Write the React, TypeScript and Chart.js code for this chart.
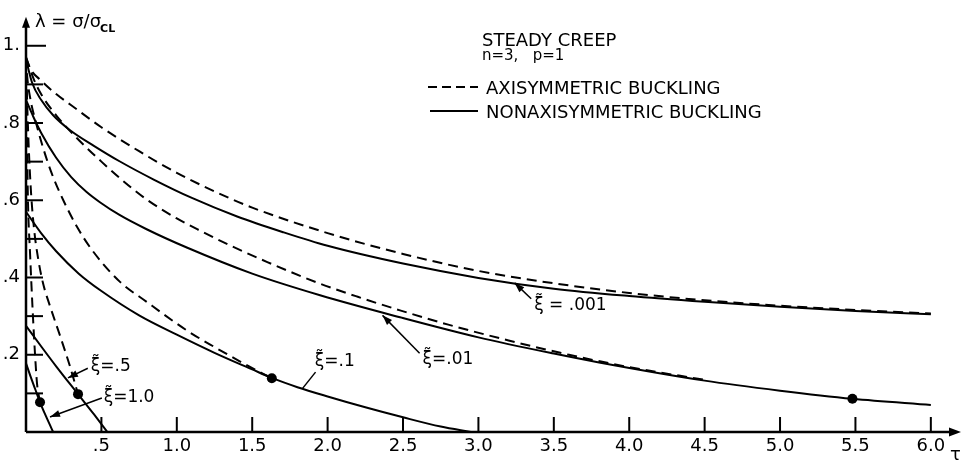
import React, { useEffect, useRef } from 'react';
import { Chart, registerables } from 'chart.js';

Chart.register(...registerables);

// ---------- tick labels ----------
const xTickValues = [0.5, 1.0, 1.5, 2.0, 2.5, 3.0, 3.5, 4.0, 4.5, 5.0, 5.5, 6.0];
const xTickLabels = ['.5', '1.0', '1.5', '2.0', '2.5', '3.0', '3.5', '4.0', '4.5', '5.0', '5.5', '6.0'];
const yTickValues = [0.2, 0.4, 0.6, 0.8, 1.0];
const yTickLabels = ['.2', '.4', '.6', '.8', '1.'];
const yMinorTickValues = [0.1, 0.2, 0.3, 0.4, 0.5, 0.6, 0.7, 0.8, 0.9, 1.0];

// ---------- series (tau, lambda) ----------
// xi = .001
const tauAxi001 = [0, 0.03, 0.1, 0.2, 0.3, 0.5, 0.75, 1.0, 1.25, 1.5, 2.0, 2.5, 3.0, 3.5, 4.0, 4.5, 5.0, 5.5, 6.0];
const lamAxi001 = [0.97, 0.94, 0.91, 0.875, 0.846, 0.789, 0.727, 0.671, 0.623, 0.581, 0.515, 0.461, 0.417, 0.385, 0.36, 0.341, 0.327, 0.316, 0.307];
const tauNon001 = [0, 0.04, 0.1, 0.18, 0.29, 0.45, 0.62, 0.85, 1.1, 1.4, 1.7, 2.0, 2.5, 3.0, 3.5, 4.0, 4.5, 5.0, 5.5, 6.0];
const lamNon001 = [0.965, 0.905, 0.86, 0.82, 0.782, 0.741, 0.701, 0.653, 0.606, 0.558, 0.518, 0.482, 0.436, 0.399, 0.371, 0.352, 0.337, 0.324, 0.313, 0.305];
// xi = .01
const tauAxi01 = [0, 0.05, 0.1, 0.2, 0.34, 0.5, 0.65, 0.8, 1.0, 1.15, 1.37, 1.6, 1.95, 2.2, 2.48, 2.8, 3.2, 3.6, 4.0, 4.5];
const lamAxi01 = [0.97, 0.915, 0.875, 0.82, 0.76, 0.7, 0.648, 0.602, 0.553, 0.522, 0.48, 0.44, 0.384, 0.35, 0.315, 0.278, 0.237, 0.2, 0.168, 0.135];
const tauNon01 = [0, 0.05, 0.1, 0.2, 0.3, 0.4, 0.49, 0.62, 0.8, 1.07, 1.5, 1.95, 2.48, 3.0, 3.5, 3.8, 4.5, 5.0, 5.48, 6.0];
const lamNon01 = [0.86, 0.815, 0.775, 0.71, 0.66, 0.622, 0.595, 0.562, 0.525, 0.477, 0.41, 0.354, 0.297, 0.245, 0.203, 0.18, 0.133, 0.107, 0.086, 0.07];
// xi = .1
const tauAxi1 = [0, 0.007, 0.03, 0.06, 0.11, 0.17, 0.245, 0.34, 0.44, 0.62, 0.8, 1.07, 1.25, 1.46, 1.63];
const lamAxi1 = [0.97, 0.925, 0.86, 0.81, 0.74, 0.67, 0.602, 0.53, 0.47, 0.39, 0.337, 0.262, 0.22, 0.174, 0.139];
const tauNon1 = [0, 0.1, 0.2, 0.35, 0.5, 0.75, 1.0, 1.25, 1.5, 1.63, 1.8, 2.0, 2.25, 2.5, 2.75, 2.95];
const lamNon1 = [0.57, 0.515, 0.468, 0.41, 0.365, 0.302, 0.252, 0.205, 0.162, 0.14, 0.116, 0.092, 0.064, 0.038, 0.014, 0];
// xi = .5
const tauAxi5 = [0, 0.008, 0.02, 0.035, 0.055, 0.08, 0.113, 0.16, 0.225, 0.29, 0.345];
const lamAxi5 = [0.97, 0.85, 0.72, 0.61, 0.52, 0.45, 0.385, 0.325, 0.25, 0.172, 0.098];
const tauNon5 = [0, 0.1, 0.2, 0.345, 0.45, 0.54];
const lamNon5 = [0.275, 0.222, 0.17, 0.098, 0.046, 0];
// xi = 1.0
const tauAxi10 = [0, 0.006, 0.013, 0.026, 0.046, 0.06, 0.073, 0.093];
const lamAxi10 = [0.97, 0.78, 0.6, 0.47, 0.3, 0.2, 0.126, 0.077];
const tauNon10 = [0, 0.03, 0.06, 0.093, 0.13, 0.16, 0.18];
const lamNon10 = [0.178, 0.144, 0.112, 0.077, 0.043, 0.017, 0];
// transition dots
const dotTau = [0.093, 0.345, 1.63, 5.48];
const dotLam = [0.077, 0.098, 0.139, 0.086];

// ---------- texts ----------
const yAxisTitle = 'λ = σ/σ';
const yAxisTitleSub = 'CL';
const xAxisTitle = 'τ';
const legendTitle = 'STEADY CREEP';
const legendSubtitle = 'n=3,   p=1';
const legendAxi = 'AXISYMMETRIC BUCKLING';
const legendNon = 'NONAXISYMMETRIC BUCKLING';

// curve labels: text, text anchor (tau, lambda), leader tail, leader tip, arrowhead?
const curveLabelTexts = ['ξ\u0303 = .001', 'ξ\u0303=.01', 'ξ\u0303=.1', 'ξ\u0303=.5', 'ξ\u0303=1.0'];
const curveLabelAnchor = [[3.37, 0.327], [2.63, 0.188], [1.915, 0.183], [0.43, 0.17], [0.515, 0.09]];
const curveLabelTail = [[3.35, 0.345], [2.61, 0.204], [1.92, 0.155], [0.41, 0.165], [0.503, 0.088]];
const curveLabelTip = [[3.24, 0.386], [2.364, 0.302], [1.834, 0.113], [0.278, 0.14], [0.159, 0.039]];
const curveLabelArrow = [true, true, false, true, true];

const FONT = '"DejaVu Sans", "Liberation Sans", sans-serif';

function pts(t: number[], l: number[]) {
  return t.map((v, i) => ({ x: v, y: l[i] }));
}

function curve(label: string, t: number[], l: number[], dashed: boolean) {
  return {
    label,
    data: pts(t, l),
    showLine: true,
    borderColor: '#000',
    backgroundColor: '#000',
    borderWidth: 2,
    borderDash: dashed ? [10, 6] : [],
    pointRadius: 0,
    cubicInterpolationMode: 'monotone' as const,
    fill: false,
  };
}

function arrowHead(ctx: CanvasRenderingContext2D, x1: number, y1: number, x2: number, y2: number, len: number, half: number) {
  const a = Math.atan2(y2 - y1, x2 - x1);
  ctx.beginPath();
  ctx.moveTo(x2, y2);
  ctx.lineTo(x2 - len * Math.cos(a) + half * Math.sin(a), y2 - len * Math.sin(a) - half * Math.cos(a));
  ctx.lineTo(x2 - len * Math.cos(a) - half * Math.sin(a), y2 - len * Math.sin(a) + half * Math.cos(a));
  ctx.closePath();
  ctx.fill();
}

const decor = {
  id: 'decor',
  afterDraw(chart: any) {
    const { ctx, chartArea, scales } = chart;
    const X = (v: number) => scales.x.getPixelForValue(v);
    const Y = (v: number) => scales.y.getPixelForValue(v);
    const x0 = X(0);
    const y0 = Y(0);
    ctx.save();
    ctx.strokeStyle = '#000';
    ctx.fillStyle = '#000';
    ctx.setLineDash([]);
    ctx.lineCap = 'butt';

    // axes
    ctx.lineWidth = 2.5;
    ctx.beginPath();
    ctx.moveTo(x0, y0);
    ctx.lineTo(chartArea.right - 6, y0);
    ctx.stroke();
    ctx.beginPath();
    ctx.moveTo(x0, y0);
    ctx.lineTo(x0, chartArea.top + 6);
    ctx.stroke();
    arrowHead(ctx, x0, y0, chartArea.right, y0, 12, 4.5);
    arrowHead(ctx, x0, y0, x0, chartArea.top, 11, 4);

    // inward ticks
    ctx.lineWidth = 2;
    xTickValues.forEach((v) => {
      ctx.beginPath();
      ctx.moveTo(X(v), y0);
      ctx.lineTo(X(v), y0 - 15);
      ctx.stroke();
    });
    yMinorTickValues.forEach((v) => {
      ctx.beginPath();
      ctx.moveTo(x0, Y(v));
      ctx.lineTo(x0 + (v === 1.0 ? 20 : 17), Y(v));
      ctx.stroke();
    });

    // axis titles
    ctx.textAlign = 'left';
    ctx.textBaseline = 'alphabetic';
    ctx.font = `18px ${FONT}`;
    ctx.fillText(yAxisTitle, x0 + 9, chartArea.top + 10);
    const w = ctx.measureText(yAxisTitle).width;
    ctx.font = `bold 11px ${FONT}`;
    ctx.fillText(yAxisTitleSub, x0 + 9 + w - 1, chartArea.top + 15);
    ctx.font = `18px ${FONT}`;
    ctx.fillText(xAxisTitle, chartArea.right - 11, y0 + 28);

    // legend
    ctx.font = `18px ${FONT}`;
    ctx.fillText(legendTitle, 482, 46);
    ctx.font = `15px ${FONT}`;
    ctx.fillText(legendSubtitle, 482, 60);
    ctx.font = `18px ${FONT}`;
    ctx.fillText(legendAxi, 486, 94);
    ctx.fillText(legendNon, 486, 118);
    ctx.lineWidth = 2;
    ctx.setLineDash([9, 5]);
    ctx.beginPath();
    ctx.moveTo(428, 87);
    ctx.lineTo(478, 87);
    ctx.stroke();
    ctx.setLineDash([]);
    ctx.beginPath();
    ctx.moveTo(430, 111);
    ctx.lineTo(478, 111);
    ctx.stroke();

    // curve labels
    ctx.font = `17px ${FONT}`;
    ctx.textBaseline = 'middle';
    curveLabelTexts.forEach((txt, i) => {
      const [ax, ay] = curveLabelAnchor[i];
      ctx.fillText(txt, X(ax), Y(ay));
      const [tx, ty] = curveLabelTail[i];
      const [px, py] = curveLabelTip[i];
      ctx.lineWidth = 1.5;
      ctx.beginPath();
      ctx.moveTo(X(tx), Y(ty));
      ctx.lineTo(X(px), Y(py));
      ctx.stroke();
      if (curveLabelArrow[i]) arrowHead(ctx, X(tx), Y(ty), X(px), Y(py), 10, 3.5);
    });
    ctx.restore();
  },
};

export default function App() {
  const ref = useRef<HTMLCanvasElement>(null);
  useEffect(() => {
    if (!ref.current) return;
    const chart = new Chart(ref.current, {
      type: 'scatter',
      data: {
        datasets: [
          curve('axi .001', tauAxi001, lamAxi001, true),
          curve('non .001', tauNon001, lamNon001, false),
          curve('axi .01', tauAxi01, lamAxi01, true),
          curve('non .01', tauNon01, lamNon01, false),
          curve('axi .1', tauAxi1, lamAxi1, true),
          curve('non .1', tauNon1, lamNon1, false),
          curve('axi .5', tauAxi5, lamAxi5, true),
          curve('non .5', tauNon5, lamNon5, false),
          curve('axi 1.0', tauAxi10, lamAxi10, true),
          curve('non 1.0', tauNon10, lamNon10, false),
          {
            label: 'transition',
            data: pts(dotTau, dotLam),
            showLine: false,
            pointRadius: 5,
            pointBackgroundColor: '#000',
            pointBorderColor: '#000',
            pointBorderWidth: 0,
          } as any,
        ],
      },
      options: {
        responsive: false,
        animation: false,
        events: [],
        layout: { padding: { left: 0, top: 15, right: 3, bottom: 0 } },
        plugins: { legend: { display: false }, tooltip: { enabled: false }, title: { display: false } },
        scales: {
          x: {
            type: 'linear',
            min: 0,
            max: 6.2,
            grid: { display: false, drawTicks: false },
            border: { display: false },
            afterBuildTicks: (s: any) => {
              s.ticks = xTickValues.map((v) => ({ value: v }));
            },
            afterFit: (s: any) => {
              s.height = 31;
            },
            ticks: {
              autoSkip: false,
              maxRotation: 0,
              includeBounds: false,
              padding: 4,
              color: '#000',
              font: { family: FONT, size: 18 },
              callback: (_v: any, i: number) => xTickLabels[i],
            },
          },
          y: {
            type: 'linear',
            min: 0,
            max: 1.075,
            grid: { display: false, drawTicks: false },
            border: { display: false },
            afterBuildTicks: (s: any) => {
              s.ticks = yTickValues.map((v) => ({ value: v }));
            },
            afterFit: (s: any) => {
              s.width = 26;
            },
            ticks: {
              autoSkip: false,
              includeBounds: false,
              padding: 6,
              color: '#000',
              font: { family: FONT, size: 18 },
              callback: (_v: any, i: number) => yTickLabels[i],
            },
          },
        },
      },
      plugins: [decor],
    });
    return () => chart.destroy();
  }, []);
  return (
    <div style={{ position: 'fixed', left: 0, top: 0, width: 966, height: 463, background: '#fff' }}>
      <canvas ref={ref} width={966} height={463} style={{ display: 'block' }} />
    </div>
  );
}
